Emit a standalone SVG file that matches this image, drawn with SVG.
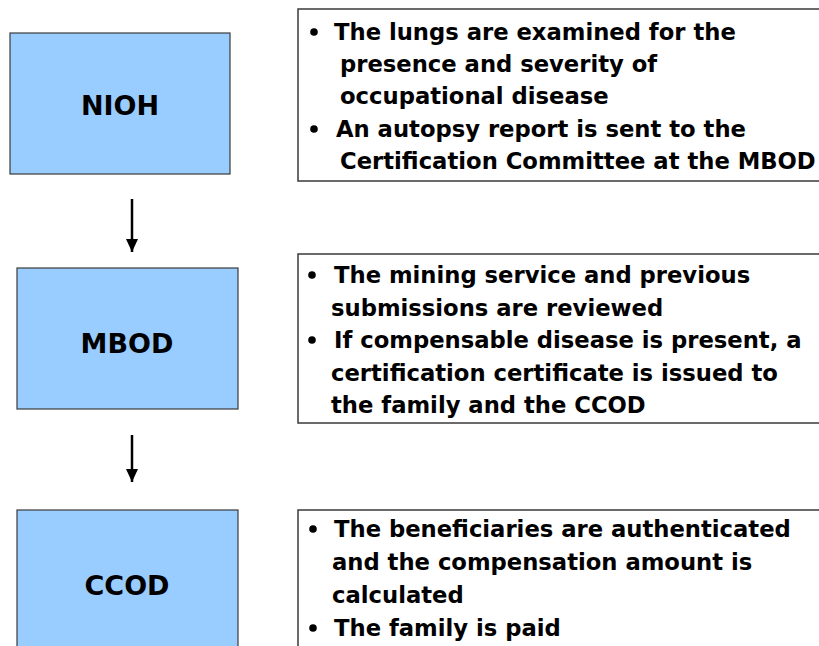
<svg xmlns="http://www.w3.org/2000/svg" width="819" height="646" viewBox="0 0 819 646">
<style>
.node{fill:#99ccff;stroke:#3a3a3a;stroke-width:1.2}
.lbl{font-family:"DejaVu Sans","Liberation Sans",sans-serif;font-weight:bold;font-size:27px;fill:#000;text-anchor:middle}
.box{fill:#fff;stroke:#3a3a3a;stroke-width:1.5}
.txt{font-family:"DejaVu Sans","Liberation Sans",sans-serif;font-weight:bold;font-size:22.7px;fill:#000}
.bul{fill:#000}
.conn{stroke:#000;stroke-width:2.5;fill:none}
</style>
<defs>
<marker id="ah" markerWidth="14" markerHeight="14" refX="13" refY="6" orient="auto" markerUnits="userSpaceOnUse">
<path d="M0,0 L13,6 L0,12 Z" fill="#000"/>
</marker>
</defs>
<rect width="819" height="646" fill="#fff"/>
<g id="connectors">
<line class="conn" x1="132" y1="199" x2="132" y2="252" marker-end="url(#ah)"/>
<line class="conn" x1="132" y1="435" x2="132" y2="482" marker-end="url(#ah)"/>
</g>
<g id="nioh">
<rect class="node" x="10" y="33" width="220" height="141"/>
<text class="lbl" x="120" y="115">NIOH</text>
</g>
<g id="mbod">
<rect class="node" x="17" y="268" width="221" height="141"/>
<text class="lbl" x="127" y="353">MBOD</text>
</g>
<g id="ccod">
<rect class="node" x="17" y="510" width="221" height="150"/>
<text class="lbl" x="127" y="595">CCOD</text>
</g>
<g id="nioh-notes">
<rect class="box" x="298" y="9" width="540" height="172"/>
<circle class="bul" cx="314" cy="32" r="3.8"/>
<circle class="bul" cx="314" cy="129" r="3.8"/>
<text class="txt" x="334" y="40">The lungs are examined for the</text>
<text class="txt" x="340" y="72">presence and severity of</text>
<text class="txt" x="340" y="104">occupational disease</text>
<text class="txt" x="336" y="137">An autopsy report is sent to the</text>
<text class="txt" x="340" y="169">Certification Committee at the MBOD</text>
</g>
<g id="mbod-notes">
<rect class="box" x="298" y="254" width="540" height="169"/>
<circle class="bul" cx="312" cy="275" r="3.8"/>
<circle class="bul" cx="312" cy="340" r="3.8"/>
<text class="txt" x="334" y="283">The mining service and previous</text>
<text class="txt" x="331" y="316">submissions are reviewed</text>
<text class="txt" x="334" y="348">If compensable disease is present, a</text>
<text class="txt" x="331" y="381">certification certificate is issued to</text>
<text class="txt" x="331" y="413">the family and the CCOD</text>
</g>
<g id="ccod-notes">
<rect class="box" x="298" y="510" width="540" height="150"/>
<circle class="bul" cx="313" cy="529" r="3.8"/>
<circle class="bul" cx="313" cy="628" r="3.8"/>
<text class="txt" x="334" y="537">The beneficiaries are authenticated</text>
<text class="txt" x="332" y="570">and the compensation amount is</text>
<text class="txt" x="332" y="603">calculated</text>
<text class="txt" x="334" y="636">The family is paid</text>
</g>
</svg>
